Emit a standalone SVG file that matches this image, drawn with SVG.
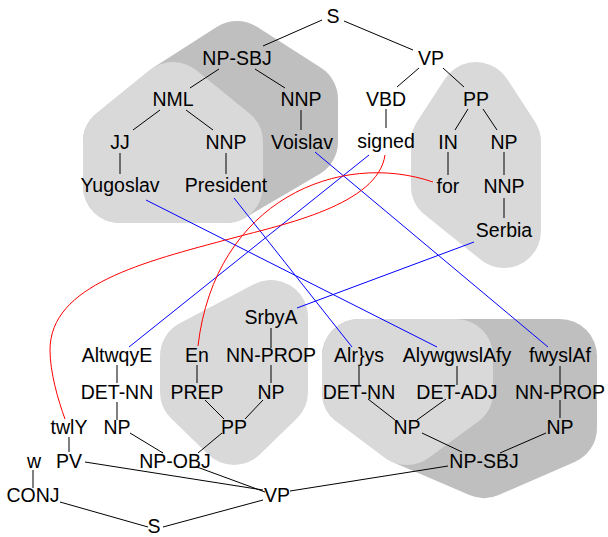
<svg xmlns="http://www.w3.org/2000/svg" width="608" height="537" viewBox="0 0 608 537">
<style>
text{font-family:"Liberation Sans",Arial,sans-serif;font-size:19.5px;fill:#000;text-anchor:middle}
.blob{stroke-width:74;stroke-linejoin:round}
.dark{fill:#bfbfbf;stroke:#bfbfbf}
.light{fill:#d9d9d9;stroke:#d9d9d9}
.e{stroke:#000;stroke-width:1;fill:none}
.b{stroke:#0000ff;stroke-width:1;fill:none}
.r{stroke:#ff0000;stroke-width:1;fill:none}
</style>
<g id="blobs">
<polygon class="blob dark" points="237,58 301,99 301,142 226,186 120,186 120,142 173,99"/>
<polygon class="blob light" points="173,99 226,142 226,186 120,186 120,142"/>
<polygon class="blob light" points="476,99 504,142 504,231 448,186 448,142"/>
<polygon class="blob light" points="271,317 271,392 234,428 197,392 197,356"/>
<polygon class="blob dark" points="359,356 560,356 560,428 484,461 407,428 359,392"/>
<polygon class="blob light" points="359,356 456,356 456,392 407,428 359,392"/>
</g>
<g id="connectors">
<g class="e">
<line x1="322" y1="20" x2="263" y2="46"/>
<line x1="344" y1="21" x2="413" y2="50"/>
<line x1="219" y1="69" x2="190" y2="88"/>
<line x1="255" y1="69" x2="285" y2="88"/>
<line x1="160" y1="110" x2="133" y2="130"/>
<line x1="186" y1="110" x2="213" y2="130"/>
<line x1="120" y1="153" x2="120" y2="174"/>
<line x1="226" y1="153" x2="226" y2="174"/>
<line x1="301" y1="110" x2="301" y2="130"/>
<line x1="419" y1="68" x2="397" y2="87"/>
<line x1="443" y1="68" x2="464" y2="87"/>
<line x1="386" y1="109" x2="386" y2="128"/>
<line x1="468" y1="109" x2="455" y2="130"/>
<line x1="483" y1="109" x2="497" y2="130"/>
<line x1="448" y1="152" x2="448" y2="175"/>
<line x1="504" y1="152" x2="504" y2="175"/>
<line x1="504" y1="198" x2="504" y2="218"/>
<line x1="271" y1="328" x2="271" y2="348"/>
<line x1="117" y1="365" x2="117" y2="383"/>
<line x1="117" y1="402" x2="117" y2="420"/>
<line x1="197" y1="365" x2="197" y2="383"/>
<line x1="271" y1="365" x2="271" y2="383"/>
<line x1="205" y1="400" x2="224" y2="419"/>
<line x1="263" y1="400" x2="245" y2="419"/>
<line x1="69" y1="437" x2="69" y2="452"/>
<line x1="130" y1="433" x2="163" y2="453"/>
<line x1="222" y1="433" x2="198" y2="453"/>
<line x1="33" y1="470" x2="33" y2="488"/>
<line x1="85" y1="462" x2="263" y2="490"/>
<line x1="197" y1="467" x2="265" y2="492"/>
<line x1="290" y1="491" x2="448" y2="466"/>
<line x1="60" y1="502" x2="148" y2="527"/>
<line x1="263" y1="500" x2="163" y2="527"/>
<line x1="359" y1="365" x2="359" y2="385"/>
<line x1="457" y1="366" x2="457" y2="385"/>
<line x1="560" y1="366" x2="560" y2="385"/>
<line x1="560" y1="400" x2="560" y2="418"/>
<line x1="368" y1="399" x2="395" y2="420"/>
<line x1="446" y1="399" x2="417" y2="420"/>
<line x1="422" y1="433" x2="462" y2="452"/>
<line x1="546" y1="433" x2="500" y2="453"/>
</g>
<g class="b">
<line x1="146" y1="200" x2="437" y2="347"/>
<line x1="234" y1="198" x2="352" y2="347"/>
<line x1="315" y1="152" x2="548" y2="347"/>
<line x1="369" y1="155" x2="129" y2="347"/>
<line x1="474" y1="242" x2="297" y2="308"/>
</g>
<g class="r">
<path d="M385,155 C378,205 283,224.5 233,238 C143,262 50,285 50,350 C50,372 58,400 65,419"/>
<path d="M433,182 C340,150 215,200 198,346"/>
</g>
</g>
<g id="n-S"><text x="333" y="23">S</text></g>
<g id="n-NP-SBJ"><text x="237" y="65">NP-SBJ</text></g>
<g id="n-VP"><text x="431" y="65">VP</text></g>
<g id="n-NML"><text x="173" y="106">NML</text></g>
<g id="n-NNP1"><text x="301" y="106">NNP</text></g>
<g id="n-VBD"><text x="386" y="106">VBD</text></g>
<g id="n-PP"><text x="476" y="106">PP</text></g>
<g id="n-JJ"><text x="120" y="149">JJ</text></g>
<g id="n-NNP2"><text x="226" y="149">NNP</text></g>
<g id="n-Voislav"><text x="302" y="149">Voislav</text></g>
<g id="n-signed"><text x="386" y="148">signed</text></g>
<g id="n-IN"><text x="448" y="149">IN</text></g>
<g id="n-NP1"><text x="504" y="149">NP</text></g>
<g id="n-Yugoslav"><text x="120" y="192">Yugoslav</text></g>
<g id="n-President"><text x="226" y="192">President</text></g>
<g id="n-for"><text x="448" y="193">for</text></g>
<g id="n-NNP3"><text x="504" y="193">NNP</text></g>
<g id="n-Serbia"><text x="504" y="237">Serbia</text></g>
<g id="a-SrbyA"><text x="271" y="324">SrbyA</text></g>
<g id="a-AltwqyE"><text x="117" y="362">AltwqyE</text></g>
<g id="a-En"><text x="197" y="362">En</text></g>
<g id="a-NN-PROP1"><text x="271" y="362">NN-PROP</text></g>
<g id="a-Alrys"><text x="359" y="362">Alr}ys</text></g>
<g id="a-AlywgwslAfy"><text x="457" y="362">AlywgwslAfy</text></g>
<g id="a-fwyslAf"><text x="560" y="362">fwyslAf</text></g>
<g id="a-DET-NN1"><text x="117" y="399">DET-NN</text></g>
<g id="a-PREP"><text x="197" y="399">PREP</text></g>
<g id="a-NP1"><text x="271" y="399">NP</text></g>
<g id="a-DET-NN2"><text x="359" y="399">DET-NN</text></g>
<g id="a-DET-ADJ"><text x="457" y="399">DET-ADJ</text></g>
<g id="a-NN-PROP2"><text x="560" y="399">NN-PROP</text></g>
<g id="a-twlY"><text x="69" y="434">twlY</text></g>
<g id="a-NP2"><text x="117" y="434">NP</text></g>
<g id="a-PP"><text x="234" y="434">PP</text></g>
<g id="a-NP3"><text x="407" y="434">NP</text></g>
<g id="a-NP4"><text x="560" y="434">NP</text></g>
<g id="a-w"><text x="34" y="468">w</text></g>
<g id="a-PV"><text x="69" y="468">PV</text></g>
<g id="a-NP-OBJ"><text x="175" y="468">NP-OBJ</text></g>
<g id="a-NP-SBJ"><text x="484" y="468">NP-SBJ</text></g>
<g id="a-CONJ"><text x="33" y="502">CONJ</text></g>
<g id="a-VP"><text x="277" y="502">VP</text></g>
<g id="a-S"><text x="154" y="533">S</text></g>
</svg>
